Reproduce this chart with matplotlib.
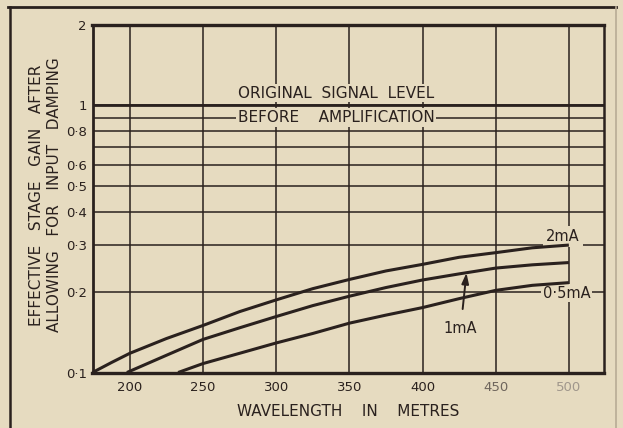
import matplotlib
matplotlib.use("Agg")
import matplotlib.pyplot as plt
from matplotlib.lines import Line2D

# ---- data ----
wl_2mA = [174.5, 187.5, 200, 225, 250, 275, 300, 325, 350, 375, 400, 425, 450, 475, 500]
gain_2mA = [0.100, 0.109, 0.118, 0.134, 0.150, 0.169, 0.187, 0.206, 0.223, 0.240,
            0.254, 0.270, 0.281, 0.293, 0.300]

wl_1mA = [198, 225, 250, 275, 300, 325, 350, 375, 400, 425, 450, 475, 500]
gain_1mA = [0.100, 0.116, 0.133, 0.147, 0.162, 0.178, 0.193, 0.208, 0.222, 0.234,
            0.246, 0.253, 0.258]

wl_05mA = [233, 250, 275, 300, 325, 350, 375, 400, 425, 450, 475, 500]
gain_05mA = [0.100, 0.108, 0.118, 0.129, 0.140, 0.153, 0.164, 0.175, 0.189, 0.203,
             0.212, 0.217]

x_ticks = [200, 250, 300, 350, 400, 450, 500]
x_tick_labels = ["200", "250", "300", "350", "400", "450", "500"]
y_grid = [0.1, 0.2, 0.3, 0.4, 0.5, 0.6, 0.7, 0.8, 0.9, 1, 2]
y_tick_labels = ["0·1", "0·2", "0·3", "0·4", "0·5", "0·6", "", "0·8", "", "1", "2"]

BG = "#e6dbc0"
INK = "#2a211e"

fig = plt.figure(figsize=(6.23, 4.28), dpi=100)
fig.patch.set_facecolor(BG)
ax = fig.add_axes([92.5 / 623, 1 - 372.5 / 428, (604 - 92.5) / 623, (372.5 - 25) / 428])
ax.set_facecolor(BG)

ax.set_yscale("log")
ax.set_xlim(174.5, 524)
ax.set_ylim(0.1, 2)
ax.yaxis.set_minor_locator(matplotlib.ticker.NullLocator())
ax.set_yticks(y_grid, y_tick_labels)
ax.set_xticks(x_ticks, x_tick_labels)
ax.tick_params(length=0, colors=INK, labelsize=9.5)
ax.tick_params(axis="y", pad=4)
ax.tick_params(axis="x", pad=6)
for lbl, c in zip(ax.get_xticklabels(), [INK, INK, INK, INK, INK, "#6e655c", "#a0978c"]):
    lbl.set_color(c)
ax.grid(True, color=INK, lw=1.1)
ax.axhline(1, color=INK, lw=2.0)

for side, w in [("top", 2.4), ("bottom", 2.4), ("left", 2.0), ("right", 1.8)]:
    ax.spines[side].set_color(INK)
    ax.spines[side].set_linewidth(w)

for xs, ys in [(wl_2mA, gain_2mA), (wl_1mA, gain_1mA), (wl_05mA, gain_05mA)]:
    ax.plot(xs, ys, color=INK, lw=2.2, solid_capstyle="butt", solid_joinstyle="round",
            clip_on=False, zorder=6)

box = dict(facecolor=BG, edgecolor="none", pad=1.2)
ax.text(341, 1.11, "ORIGINAL  SIGNAL  LEVEL", ha="center", va="center",
        fontsize=11, color=INK, bbox=box, zorder=5)
ax.text(341, 0.9, "BEFORE    AMPLIFICATION", ha="center", va="center",
        fontsize=11, color=INK, bbox=box, zorder=5)
ax.text(496, 0.322, "2mA", ha="center", va="center",
        fontsize=10.5, color=INK, bbox=dict(facecolor=BG, edgecolor="none", pad=2.2), zorder=5)
ax.text(498.5, 0.198, "0·5mA", ha="center", va="center",
        fontsize=10.5, color=INK, bbox=box, zorder=5)
ax.annotate("1mA", xy=(430, 0.236), xytext=(426, 0.1455), ha="center", va="center",
            fontsize=10.5, color=INK, zorder=5,
            arrowprops=dict(arrowstyle="-|>,head_length=0.6,head_width=0.2",
                            color=INK, lw=1.4, shrinkA=7, shrinkB=0))

ax.set_xlabel("WAVELENGTH    IN    METRES", fontsize=11, color=INK, labelpad=7)
fig.text(37 / 623, 1 - 195 / 428, "EFFECTIVE   STAGE   GAIN   AFTER", rotation=90,
         ha="center", va="center", fontsize=11, color=INK)
fig.text(55 / 623, 1 - 195 / 428, "ALLOWING   FOR   INPUT   DAMPING", rotation=90,
         ha="center", va="center", fontsize=11, color=INK)

# outer frame of the printed figure
fig.add_artist(Line2D([10 / 623, 10 / 623], [0, 1 - 7 / 428], transform=fig.transFigure,
                      color=INK, lw=1.8))
fig.add_artist(Line2D([8 / 623, 616 / 623], [1 - 7 / 428, 1 - 7 / 428], transform=fig.transFigure,
                      color=INK, lw=2.0))
fig.add_artist(Line2D([616 / 623, 616 / 623], [0, 1 - 7 / 428], transform=fig.transFigure,
                      color="#b8ab95", lw=1.2))

fig.savefig("out.png", dpi=100, facecolor=BG)
